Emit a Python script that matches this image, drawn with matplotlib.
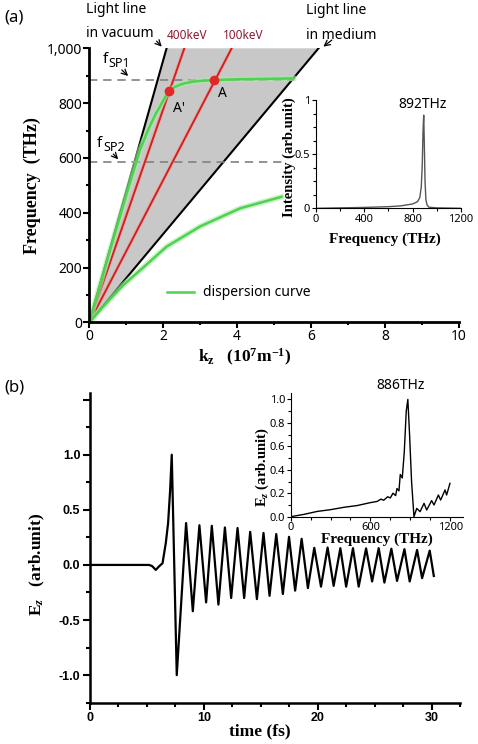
import matplotlib
matplotlib.use("Agg")
import matplotlib.pyplot as plt
from matplotlib.ticker import MultipleLocator, FuncFormatter

plt.rcParams["font.family"] = ["Noto Sans", "DejaVu Sans"]
plt.rcParams["mathtext.fontset"] = "custom"
plt.rcParams["mathtext.rm"] = "Noto Sans"
plt.rcParams["mathtext.bf"] = "Liberation Serif:bold"
plt.rcParams["mathtext.it"] = "Liberation Serif:bold:italic"

# ---- panel (a): dispersion diagram ----
line_f = [0, 1000]
vacuum_kz = [0, 2.09]
medium_kz = [0, 6.2]
e400_kz = [0, 2.57]
e100_kz = [0, 3.85]

upper_kz = [0, 0.5, 1.0, 1.37, 1.6, 1.8, 1.91, 2.05, 2.16, 2.3, 2.45, 2.6, 2.8, 3.0,
            3.37, 4.0, 4.5, 5.0, 5.52]
upper_f = [0, 235, 465, 629, 705, 762, 787, 822, 844, 858, 867, 873, 878, 881,
           884, 887, 888, 889, 890]
lower_kz = [0, 0.5, 0.92, 1.5, 2.09, 3.0, 4.08, 5.2]
lower_f = [0, 76, 136, 205, 276, 350, 416, 458]

point_labels = ["A'", "A"]
point_kz = [2.16, 3.37]
point_f = [844, 884]

sp_names = ["SP1", "SP2"]
sp_f = [884, 584]
sp_end_kz = [5.55, 5.2]

# inset (a): intensity spectrum
spec_a_freq = [0, 200, 400, 600, 700, 800, 840, 860, 872, 880, 886, 892, 897, 903, 910, 920, 935, 1000, 1200]
spec_a_int = [0, 0.004, 0.008, 0.015, 0.022, 0.04, 0.06, 0.1, 0.2, 0.4, 0.7, 0.86, 0.6, 0.25, 0.08, 0.03, 0.01, 0.004, 0.0]

# ---- panel (b): time signal ----
time_fs = [0, 5.19, 5.45, 5.78, 6.0, 6.2, 6.37, 6.66, 6.86, 7.04, 7.18, 7.62,
           8.44, 9.03, 9.61, 10.2, 10.7, 11.28, 11.85, 12.4, 12.96, 13.54,
           14.07, 14.66, 15.24, 15.77, 16.36, 16.94, 17.48, 18.02, 18.59, 19.14,
           19.7, 20.29, 20.87, 21.4, 21.99, 22.5, 23.1, 23.6, 24.25, 24.78,
           25.36, 25.86, 26.47, 26.97, 27.62, 28.08, 28.73, 29.17, 29.84, 30.2]
ez_vals = [0, 0, -0.01, -0.045, -0.02, 0, 0.015, 0.2, 0.38, 0.68, 1.0, -1.0,
           0.38, -0.42, 0.36, -0.34, 0.355, -0.36, 0.34, -0.30, 0.335, -0.30,
           0.30, -0.31, 0.29, -0.28, 0.28, -0.264, 0.255, -0.233, 0.237, -0.21,
           0.155, -0.197, 0.158, -0.19, 0.152, -0.197, 0.152, -0.197, 0.15, -0.15,
           0.152, -0.16, 0.147, -0.145, 0.143, -0.15, 0.136, -0.12, 0.13, -0.1]

# inset (b): spectrum of Ez
spec_b_freq = [0, 100, 200, 300, 400, 500, 600, 650, 680, 700, 730, 750, 770, 790,
               800, 815, 825, 840, 855, 870, 882, 895, 910, 928, 949, 974, 1004,
               1024, 1061, 1079, 1112, 1129, 1162, 1174, 1199]
spec_b_val = [0, 0.02, 0.045, 0.06, 0.08, 0.095, 0.12, 0.13, 0.15, 0.14, 0.17, 0.16,
              0.2, 0.18, 0.24, 0.22, 0.36, 0.33, 0.55, 0.9, 1.0, 0.7, 0.3, 0.0,
              0.071, 0.043, 0.114, 0.057, 0.137, 0.10, 0.185, 0.142, 0.228, 0.185, 0.284]

W, H = 478, 744
fig = plt.figure(figsize=(W / 100, H / 100), dpi=100)


def rect(left, top, right, bottom):
    return [left / W, 1 - bottom / H, (right - left) / W, (bottom - top) / H]


green = "#4fd24f"
red = "#d02020"
dred = "#8b1a35"
serif_bold = dict(family="Liberation Serif", weight="bold")

# ---------------- panel (a) ----------------
ax = fig.add_axes(rect(89.3, 48.3, 459, 322.3))
ax.fill(vacuum_kz + medium_kz[::-1], line_f + line_f[::-1], color="#c8c8c8", lw=0)
ax.plot(vacuum_kz, line_f, color="black", lw=1.5)
ax.plot(medium_kz, line_f, color="black", lw=1.5)
for kz in (e400_kz, e100_kz):
    ax.plot(kz, line_f, color="#f3a0a0", lw=3, alpha=0.5)
    ax.plot(kz, line_f, color=red, lw=1.4)
for i in range(2):
    ax.plot([0, sp_end_kz[i]], [sp_f[i], sp_f[i]], color="#808080", lw=1.2,
            dashes=(5, 3.5))
for kz, f in ((upper_kz, upper_f), (lower_kz, lower_f)):
    ax.plot(kz, f, color="#a8eca8", lw=4, alpha=0.6)
for kz, f, lab in ((upper_kz, upper_f, "dispersion curve"), (lower_kz, lower_f, None)):
    ax.plot(kz, f, color=green, lw=1.8, label=lab)
ax.scatter(point_kz, point_f, color="#e02828", s=36, zorder=5)
for lab, k, f, dk, df in zip(point_labels, point_kz, point_f, [0.1, 0.12], [-75, -61]):
    ax.text(k + dk, f + df, lab, fontsize=10, va="baseline")

ax.set_xlim(0, 10)
ax.set_ylim(0, 1000)
ax.xaxis.set_major_locator(MultipleLocator(2))
ax.xaxis.set_minor_locator(MultipleLocator(1))
ax.yaxis.set_major_locator(MultipleLocator(200))
ax.yaxis.set_minor_locator(MultipleLocator(100))
ax.yaxis.set_major_formatter(FuncFormatter(lambda v, p: f"{int(v):,}"))
for s in ("top", "right"):
    ax.spines[s].set_visible(False)
for s in ("left", "bottom"):
    ax.spines[s].set_linewidth(2)
ax.tick_params(which="major", length=4, width=1.5, labelsize=10, pad=1)
ax.tick_params(which="minor", length=2.5, width=1.5)
ax.set_ylabel("Frequency  (THz)", fontsize=13, **serif_bold)
ax.yaxis.set_label_coords(-0.13, 0.5)
ax.set_xlabel(r"k$_\mathbf{z}$   (10$^\mathbf{7}$m$^\mathbf{-1}$)", fontsize=12.5, **serif_bold)
ax.xaxis.set_label_coords(0.42, -0.09)
ax.legend(loc="center left", bbox_to_anchor=(0.209, 0.107), frameon=False,
          borderpad=0, borderaxespad=0, handlelength=2.0, handletextpad=0.6, fontsize=10)

txt = dict(fontsize=10, va="baseline", clip_on=False)
ax.text(-0.09, 1130, "Light line", **txt)
ax.text(-0.09, 1042, "in vacuum", **txt)
ax.text(5.86, 1125, "Light line", **txt)
ax.text(5.86, 1033, "in medium", **txt)
ax.text(2.09, 1033, "400keV", color=dred, fontsize=8.5, va="baseline")
ax.text(3.61, 1033, "100keV", color=dred, fontsize=8.5, va="baseline")
for name, k, f in zip(sp_names, [0.37, 0.21], [946, 641]):
    ax.text(k, f, "f", fontsize=11, va="baseline")
    ax.annotate(name, xy=(k, f), xytext=(4.2, -3), textcoords="offset points",
                fontsize=9, va="baseline")
arrow = dict(arrowstyle="->", lw=0.9, color="black", shrinkA=0, shrinkB=0)
ax.annotate("", xy=(1.96, 1006), xytext=(1.82, 1026), arrowprops=arrow, annotation_clip=False)
ax.annotate("", xy=(6.33, 1006), xytext=(6.56, 1030), arrowprops=arrow, annotation_clip=False)
ax.annotate("", xy=(1.05, 899), xytext=(0.88, 921), arrowprops=arrow)
ax.annotate("", xy=(0.78, 595), xytext=(0.65, 614), arrowprops=arrow)
fig.text(4 / W, 1 - 17 / H, "(a)", fontsize=12, va="center")

# inset (a)
ia = fig.add_axes(rect(315.7, 100, 461, 208.3))
ia.plot(spec_a_freq, spec_a_int, color="#555555", lw=1.0)
ia.set_xlim(0, 1200)
ia.set_ylim(0, 1)
ia.xaxis.set_major_locator(MultipleLocator(400))
ia.xaxis.set_minor_locator(MultipleLocator(200))
ia.yaxis.set_major_locator(MultipleLocator(0.5))
ia.yaxis.set_minor_locator(MultipleLocator(0.125))
ia.yaxis.set_major_formatter(FuncFormatter(lambda v, p: f"{v:g}"))
for s in ("top", "right"):
    ia.spines[s].set_visible(False)
ia.tick_params(which="major", length=3, width=0.8, labelsize=8, pad=1)
ia.tick_params(which="minor", length=2, width=0.8)
ia.set_ylabel("Intensity (arb.unit)", fontsize=10.5, **serif_bold)
ia.yaxis.set_label_coords(-0.135, 0.47)
ia.set_xlabel("Frequency (THz)", fontsize=11, **serif_bold)
ia.xaxis.set_label_coords(0.477, -0.22)
fig.text(398.3 / W, 1 - 108.3 / H, "892THz", fontsize=10, va="baseline")

# ---------------- panel (b) ----------------
bx = fig.add_axes(rect(90, 393, 460, 702.7))
bx.plot(time_fs, ez_vals, color="black", lw=1.6)
bx.set_xlim(0, 32.5)
bx.set_ylim(-1.25, 1.56)
bx.xaxis.set_major_locator(MultipleLocator(10))
bx.xaxis.set_minor_locator(MultipleLocator(2.5))
bx.yaxis.set_major_locator(MultipleLocator(0.5))
bx.yaxis.set_minor_locator(MultipleLocator(0.25))
bx.yaxis.set_major_formatter(FuncFormatter(lambda v, p: f"{v:.1f}" if v < 1.2 else ""))
for s in ("top", "right"):
    bx.spines[s].set_visible(False)
for s in ("left", "bottom"):
    bx.spines[s].set_linewidth(1.8)
bx.tick_params(which="major", length=5, width=1.5, labelsize=9, pad=2)
bx.tick_params(which="minor", length=3, width=1.5)
for t in bx.get_xticklabels() + bx.get_yticklabels():
    t.set_fontfamily("Liberation Sans")
    t.set_fontweight("bold")
bx.set_ylabel(r"E$_{\it z}$   (arb.unit)", fontsize=12.5, **serif_bold)
bx.yaxis.set_label_coords(-0.115, 0.445)
bx.set_xlabel("time (fs)", fontsize=12.5, **serif_bold)
bx.xaxis.set_label_coords(0.46, -0.066)
fig.text(4 / W, 1 - 387 / H, "(b)", fontsize=12, va="center")

# inset (b)
ib = fig.add_axes(rect(290.7, 392.7, 462.7, 516.7))
ib.plot(spec_b_freq, spec_b_val, color="black", lw=1.0)
ib.set_xlim(0, 1295)
ib.set_ylim(0, 1.057)
ib.xaxis.set_major_locator(MultipleLocator(600))
ib.xaxis.set_minor_locator(MultipleLocator(150))
ib.yaxis.set_major_locator(MultipleLocator(0.2))
ib.yaxis.set_minor_locator(MultipleLocator(0.1))
ib.yaxis.set_major_formatter(FuncFormatter(lambda v, p: f"{v:.1f}"))
for s in ("top", "right"):
    ib.spines[s].set_visible(False)
ib.tick_params(which="major", length=3, width=0.8, labelsize=8, pad=1)
ib.tick_params(which="minor", length=2, width=0.8)
ib.set_ylabel(r"E$_{\it z}$ (arb.unit)", fontsize=10.5, **serif_bold)
ib.yaxis.set_label_coords(-0.115, 0.40)
ib.set_xlabel("Frequency (THz)", fontsize=11, **serif_bold)
ib.xaxis.set_label_coords(0.5, -0.13)
fig.text(376.7 / W, 1 - 389.3 / H, "886THz", fontsize=10, va="baseline")

fig.savefig("out.png", dpi=100)
